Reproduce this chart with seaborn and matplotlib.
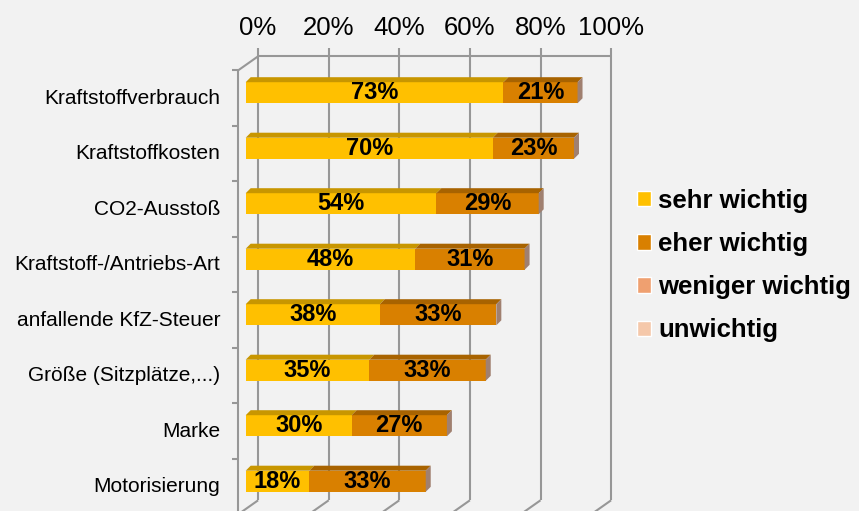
import matplotlib
matplotlib.use("Agg")
import matplotlib.pyplot as plt
from matplotlib.patches import Polygon, Patch
import seaborn as sns
import pandas as pd

# data
categories = ["Kraftstoffverbrauch", "Kraftstoffkosten", "CO2-Ausstoß",
              "Kraftstoff-/Antriebs-Art", "anfallende KfZ-Steuer",
              "Größe (Sitzplätze,...)", "Marke", "Motorisierung"]
sehr_wichtig = [73, 70, 54, 48, 38, 35, 30, 18]
eher_wichtig = [21, 23, 29, 31, 33, 33, 27, 33]
series_names = ["sehr wichtig", "eher wichtig", "weniger wichtig", "unwichtig"]
x_ticks = [0, 20, 40, 60, 80, 100]

colors = {"sehr wichtig": "#FFC000", "eher wichtig": "#D98000",
          "weniger wichtig": "#EFA070", "unwichtig": "#F5C8AA"}
top_colors = ["#C89600", "#A86300"]
side_color = "#A08070"
grid_color = "#979797"
bg = "#F2F2F2"

sns.set_theme(style="white", rc={"figure.facecolor": bg, "axes.facecolor": "none",
                                 "savefig.facecolor": bg, "text.color": "black"})
plt.rcParams["font.family"] = ["Liberation Sans", "DejaVu Sans"]

df = pd.DataFrame({"Merkmal": categories, "sehr": sehr_wichtig, "eher": eher_wichtig})
df["gesamt"] = df["sehr"] + df["eher"]

W, H = 859, 511
fig = plt.figure(figsize=(W / 100, H / 100), dpi=100)
# axes = plane of the bar front faces (pixels)
ax_l, ax_t, ax_w, ax_h = 245.7, 65, 353, 444
ax = fig.add_axes([ax_l / W, (H - ax_t - ax_h) / H, ax_w / W, ax_h / H])

bw = 0.38
sns.barplot(data=df, x="gesamt", y="Merkmal", color=colors["eher wichtig"], width=bw,
            saturation=1, errorbar=None, ax=ax, zorder=3, linewidth=0)
sns.barplot(data=df, x="sehr", y="Merkmal", color=colors["sehr wichtig"], width=bw,
            saturation=1, errorbar=None, ax=ax, zorder=3, linewidth=0)
ax.set_xlim(0, 100)
ax.set_ylim(len(categories) - 0.5, -0.5)
ax.axis("off")

# pixel -> data units
kx = 100 / ax_w
ky = len(categories) / ax_h


def shift(x, y, dx_px, dy_px):
    return x + dx_px * kx, y - dy_px * ky


BACK = (12.4, 8.7)
FRONT = (-7.6, -5.4)
y0, y1 = -0.5, len(categories) - 0.5
line_kw = dict(color=grid_color, lw=1.5, clip_on=False, zorder=1, solid_capstyle="butt")

# back wall: gridlines, top edge, ticks
for xv in x_ticks:
    bx, by0 = shift(xv, y0, *BACK)
    _, by1 = shift(xv, y1, *BACK)
    ax.plot([bx, bx], [by0 - 8 * ky, by1], **line_kw)
    fx, fy = shift(xv, y1, *FRONT)
    ax.plot([bx, fx], [by1, fy], **line_kw)
    ax.text(bx, by0 - 28.3 * ky, f"{xv}%", ha="center", va="center", fontsize=18.5)
bx0, by = shift(0, y0, *BACK)
bx1, _ = shift(100, y0, *BACK)
ax.plot([bx0, bx1], [by, by], **line_kw)

# left wall
fx, fy0 = shift(0, y0, *FRONT)
_, fy1 = shift(0, y1 + 0.2, *FRONT)
ax.plot([fx, fx], [fy0, fy1], **line_kw)
ax.plot([fx, bx0], [fy0, by], **line_kw)
for k in range(len(categories) + 1):
    _, ty = shift(0, y0 + k, *FRONT)
    ax.plot([fx - 6 * kx, fx], [ty, ty], **line_kw)

# 3d faces of bars
d = 5
for i, (s, e) in enumerate(zip(sehr_wichtig, eher_wichtig)):
    t = s + e
    yt, yb = i - bw / 2, i + bw / 2
    ddx, ddy = d * kx, -d * ky
    for (a, b), c in zip([(0, s), (s, t)], top_colors):
        ax.add_patch(Polygon([(a, yt), (b, yt), (b + ddx, yt + ddy), (a + ddx, yt + ddy)],
                             closed=True, fc=c, ec="none", zorder=3, clip_on=False))
    ax.add_patch(Polygon([(t, yt), (t + ddx, yt + ddy), (t + ddx, yb + ddy), (t, yb)],
                         closed=True, fc=side_color, ec="none", zorder=3, clip_on=False))
    ax.text(s / 2, i, f"{s}%", ha="center", va="center", fontsize=17,
            fontweight="bold", zorder=5)
    ax.text(s + e / 2, i, f"{e}%", ha="center", va="center", fontsize=17,
            fontweight="bold", zorder=5)
    lx, ly = shift(0, i, FRONT[0] - 18, FRONT[1])
    ax.text(lx, ly, categories[i], ha="right", va="center", fontsize=15)

handles = [Patch(facecolor=colors[n], label=n) for n in series_names]
fig.legend(handles=handles, loc="center left", bbox_to_anchor=(637 / W, 1 - 265.5 / H),
           frameon=False, prop={"weight": "bold", "size": 18.5},
           handlelength=0.55, handleheight=0.55, handletextpad=0.28,
           labelspacing=0.75, borderpad=0, borderaxespad=0)

fig.savefig("out.png", dpi=100)
